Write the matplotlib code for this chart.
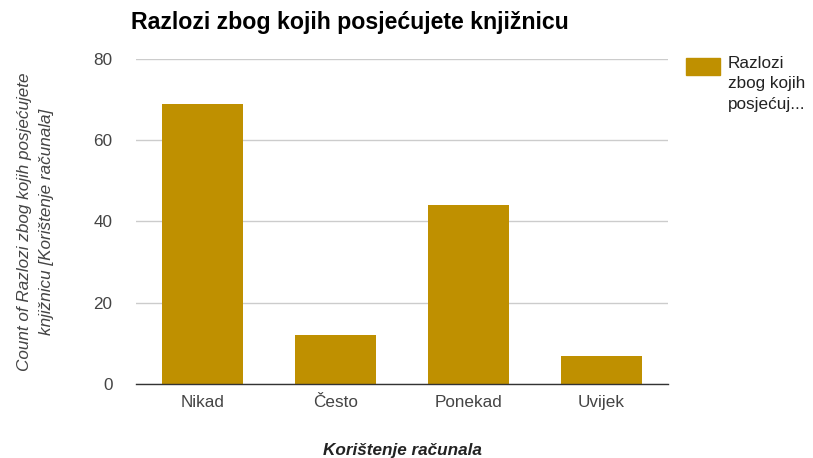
import matplotlib.pyplot as plt
import matplotlib.patches as mpatches

plt.rcParams["font.family"] = ["Liberation Sans", "DejaVu Sans"]

categories = ["Nikad", "Često", "Ponekad", "Uvijek"]
counts = [69, 12, 44, 7]
yticks = [0, 20, 40, 60, 80]

bar_color = "#bf9000"

fig = plt.figure(figsize=(8.13, 4.58), dpi=100)
ax = fig.add_axes([0.1673, 0.1616, 0.6544, 0.7096])

x = range(len(categories))
ax.bar(x, counts, width=0.61, color=bar_color, zorder=3)

ax.set_xlim(-0.5, len(categories) - 0.5)
ax.set_ylim(0, 80)
ax.set_yticks(yticks)
ax.set_xticks(list(x))
ax.set_xticklabels(categories)
ax.tick_params(axis="both", length=0, labelsize=12.3, labelcolor="#444444")
ax.tick_params(axis="y", pad=17)
ax.tick_params(axis="x", pad=8)

# gridlines and baseline
ax.grid(axis="y", color="#cccccc", linewidth=1, zorder=0)
for s in ["top", "right", "left"]:
    ax.spines[s].set_visible(False)
ax.spines["bottom"].set_color("#333333")
ax.spines["bottom"].set_linewidth(1)
ax.spines["bottom"].set_zorder(4)

ax.set_xlabel("Korištenje računala", fontsize=12.3, fontweight="bold",
              fontstyle="italic", color="#222222", labelpad=24)
ax.set_ylabel("Count of Razlozi zbog kojih posjećujete\nknjižnicu [Korištenje računala]",
              fontsize=12.3, fontstyle="italic", color="#444444", labelpad=28,
              linespacing=1.65)

fig.text(131 / 813, 1 - 22 / 458, "Razlozi zbog kojih posjećujete knjižnicu",
         fontsize=16.7, fontweight="bold", color="#000000", va="center", ha="left")

# legend
fig.patches.append(mpatches.Rectangle((686 / 813, 1 - 75 / 458), 34 / 813, 17 / 458,
                                      transform=fig.transFigure, color=bar_color))
fig.text(728 / 813, 1 - 56 / 458, "Razlozi\nzbog kojih\nposjećuj...",
         fontsize=12.3, color="#222222", va="top", ha="left", linespacing=1.45)

fig.savefig("out.png", dpi=100)
